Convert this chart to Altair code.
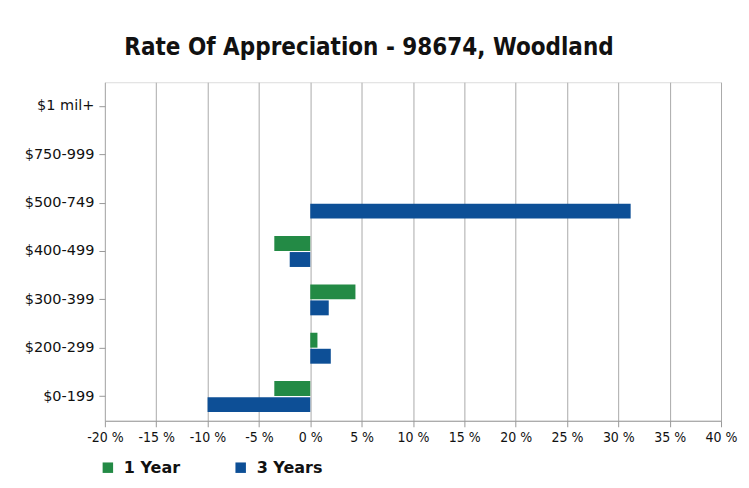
import altair as alt
import pandas as pd

categories = ["$1 mil+", "$750-999", "$500-749", "$400-499", "$300-399", "$200-299", "$0-199"]
one_year = [None, None, None, -3.5, 4.4, 0.7, -3.5]
three_years = [None, None, 31.2, -2.0, 1.8, 2.0, -10.0]
series = ["1 Year", "3 Years"]
colors = ["#238a45", "#0d4f96"]
x_ticks = [-20, -15, -10, -5, 0, 5, 10, 15, 20, 25, 30, 35, 40]

rows = []
for c, a, b in zip(categories, one_year, three_years):
    rows.append({"cat": c, "series": series[0], "value": a})
    rows.append({"cat": c, "series": series[1], "value": b})
df = pd.DataFrame(rows)

COND = "DejaVu Sans Condensed, Liberation Sans, sans-serif"
SANS = "DejaVu Sans, sans-serif"

bars = alt.Chart(df).mark_bar(stroke=None).encode(
    y=alt.Y("cat:N", sort=categories, title=None,
            scale=alt.Scale(paddingInner=0.36, paddingOuter=0.18),
            axis=alt.Axis(grid=False, domain=False, tickColor="#999999", tickSize=6,
                          labelFont=SANS, labelFontSize=14.5, labelColor="#111111", labelPadding=5)),
    yOffset=alt.YOffset("series:N", scale=alt.Scale(domain=series, paddingInner=0.07)),
    x=alt.X("value:Q", title=None,
            scale=alt.Scale(domain=[-20, 40], nice=False),
            axis=alt.Axis(values=x_ticks, labelExpr="datum.value + ' %'", grid=True,
                          gridColor="#aaaaaa", domainColor="#999999", tickColor="#999999",
                          tickSize=6, labelFont=COND, labelFontSize=14, labelColor="#111111",
                          labelPadding=4, labelOverlap=False, labelFlush=False)),
    color=alt.Color("series:N", scale=alt.Scale(domain=series, range=colors),
                    legend=alt.Legend(title=None, orient="none", legendX=-5, legendY=378,
                                      direction="horizontal", symbolType="square",
                                      symbolSize=110, symbolStrokeWidth=0,
                                      labelFont=SANS, labelFontSize=16,
                                      labelFontWeight="bold", labelColor="#111111",
                                      columnPadding=52, labelOffset=8)),
)

chart = bars.properties(
    width=617, height=339,
    autosize=alt.AutoSizeParams(type="none"),
    padding={"left": 97, "top": 74, "right": 20, "bottom": 60},
    title=alt.TitleParams("Rate Of Appreciation - 98674, Woodland", font=COND,
                          fontSize=24, fontWeight="bold", color="#111111",
                          anchor="middle", dx=-44, offset=22),
).configure_view(fill="#e4e4e4", stroke="#aaaaaa").configure(background="white")

chart.save("out.html", embed_options={"renderer": "svg", "actions": False})
